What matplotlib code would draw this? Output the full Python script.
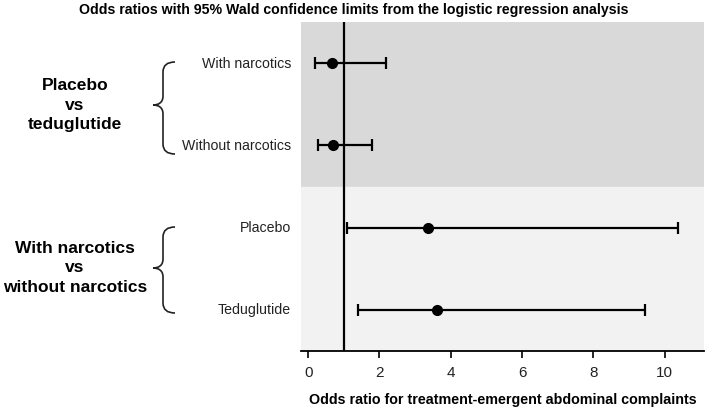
import matplotlib
matplotlib.use("Agg")
import matplotlib.pyplot as plt
from matplotlib.path import Path
from matplotlib.patches import PathPatch
from matplotlib.transforms import Affine2D

plt.rcParams["font.family"] = ["Liberation Sans", "DejaVu Sans"]

rows = ["With narcotics", "Without narcotics", "Placebo", "Teduglutide"]
odds = [0.66, 0.70, 3.35, 3.61]
lower = [0.19, 0.28, 1.10, 1.39]
upper = [2.19, 1.80, 10.37, 9.45]
groups = ["Placebo\nvs\nteduglutide", "With narcotics\nvs\nwithout narcotics"]
xticks = [0, 2, 4, 6, 8, 10]

W, H = 708, 408
fig = plt.figure(figsize=(W / 100, H / 100), dpi=100)
ax = fig.add_axes([301 / W, 1 - 351 / H, 403 / W, 329 / H])

ypos = list(range(len(rows)))
ax.axhspan(-0.5, 1.5, color="#d9d9d9", zorder=0)
ax.axhspan(1.5, 3.5, color="#f2f2f2", zorder=0)
ax.axvline(1, color="black", lw=1.6, zorder=2)

err = [[o - l for o, l in zip(odds, lower)], [u - o for o, u in zip(odds, upper)]]
ax.errorbar(odds, ypos, xerr=err, fmt="o", color="black", ms=7, lw=1.6,
            capsize=4, capthick=1.6, zorder=3)

ax.set_xlim(-0.2, 11.1)
ax.set_ylim(3.5, -0.5)
ax.set_xticks(xticks)
ax.set_xticklabels([str(t) for t in xticks], fontsize=11, color="#222222")
ax.tick_params(axis="x", direction="out", length=5, width=1.2, pad=6)
ax.set_yticks([])
for s in ["left", "right", "top"]:
    ax.spines[s].set_visible(False)
ax.spines["bottom"].set_linewidth(1.3)

ax.set_xlabel("Odds ratio for treatment-emergent abdominal complaints",
              fontsize=10.3, fontweight="bold", labelpad=9)
fig.text(0.5, 1 - 10 / H, "Odds ratios with 95% Wald confidence limits from the logistic regression analysis",
         ha="center", va="center", fontsize=10.2, fontweight="bold")

# pixel coordinates, y downward
px = Affine2D().scale(1 / W, -1 / H).translate(0, 1) + fig.transFigure

for y, lab in zip([64, 146, 228, 310], rows):
    fig.text(291 / W, 1 - y / H, lab, ha="right", va="center", fontsize=10.2,
             color="#222222")

for (top, bot, mid), lab in zip([(62, 154, 105), (227, 313, 268)], groups):
    fig.text(75 / W, 1 - mid / H, lab, ha="center", va="center", fontsize=12.5,
             fontweight="bold", linespacing=1.4)
    verts = [(175, top), (163, top), (163, top + 10),
             (163, mid - 9),
             (163, mid - 2), (158, mid), (153, mid),
             (158, mid), (163, mid + 2), (163, mid + 9),
             (163, bot - 10),
             (163, bot), (175, bot)]
    codes = [Path.MOVETO, Path.CURVE3, Path.CURVE3,
             Path.LINETO,
             Path.CURVE4, Path.CURVE4, Path.CURVE4,
             Path.CURVE4, Path.CURVE4, Path.CURVE4,
             Path.LINETO,
             Path.CURVE3, Path.CURVE3]
    fig.add_artist(PathPatch(Path(verts, codes), transform=px, fill=False,
                             lw=1.2, color="#222222"))

fig.savefig("out.png", dpi=100)
